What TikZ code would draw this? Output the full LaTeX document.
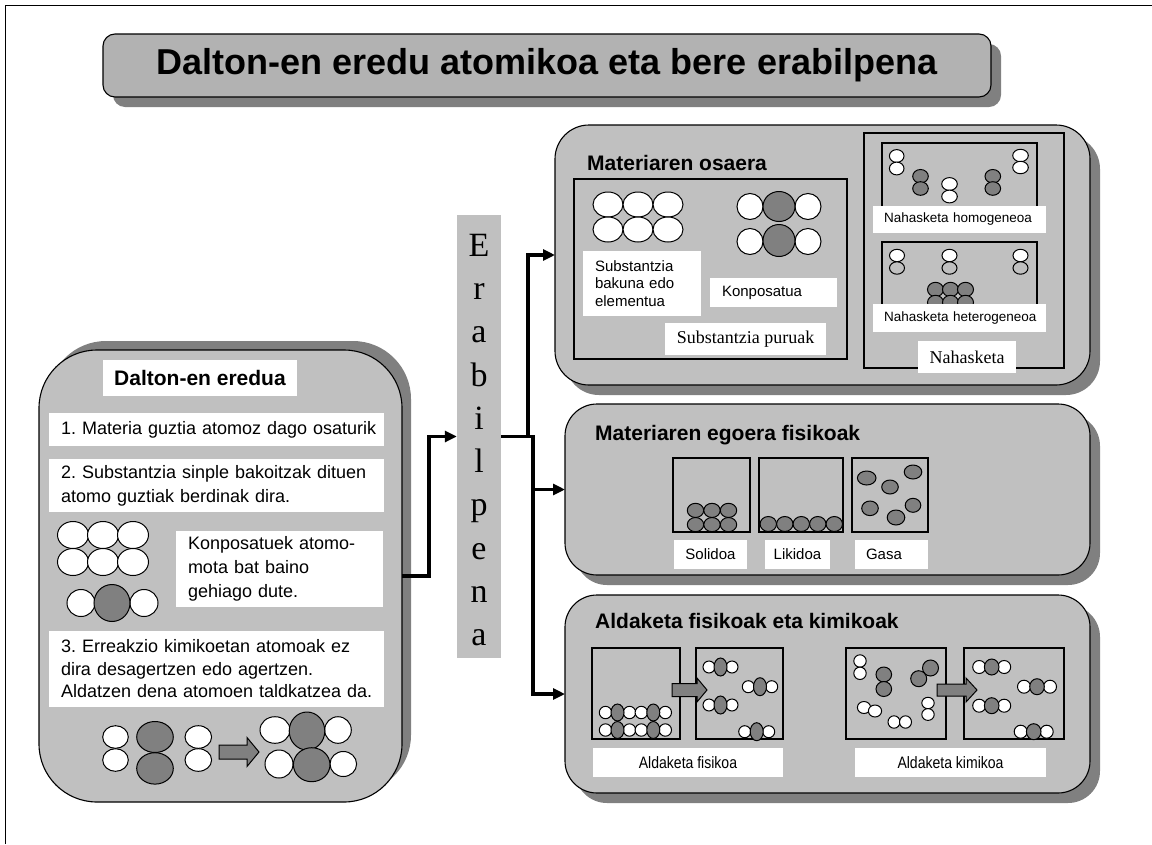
\documentclass[tikz,border=0pt]{standalone}
\usepackage{fontspec}
\setmainfont{Liberation Serif}
\setsansfont{Liberation Sans}
\newfontfamily\arial{Liberation Sans}
\newfontfamily\tnr{Liberation Serif}
\newfontfamily\narrowf[FakeStretch=0.85]{Liberation Sans}
\usetikzlibrary{shadows,arrows.meta}
\definecolor{boxg}{HTML}{C0C0C0}
\definecolor{shad}{HTML}{808080}
\definecolor{titleg}{HTML}{B2B2B2}
\definecolor{atomg}{HTML}{808080}
\frenchspacing
\newcommand\aW[4]{\path[atw] ({#1},{#2}) ellipse [x radius=#3pt, y radius=#4pt];}
\newcommand\aG[4]{\path[atg] ({#1},{#2}) ellipse [x radius=#3pt, y radius=#4pt];}
\newcommand\aL[4]{\path[atl] ({#1},{#2}) ellipse [x radius=#3pt, y radius=#4pt];}
\newcommand\mol[6]{\aW{#1-#3}{#2}{#4}{#4}\aW{#1+#3}{#2}{#4}{#4}\aG{#1}{#2}{#5}{#6}}
\newcommand\blkarrow[6]{\draw[barr] ({#1},{#4-#5}) -- ({#2},{#4-#5}) -- ({#2},{#4-#6}) -- ({#3},{#4}) -- ({#2},{#4+#6}) -- ({#2},{#4+#5}) -- ({#1},{#4+#5}) -- cycle;}
\begin{document}
\frenchspacing
\begin{tikzpicture}[x=1pt,y=-1pt,
  bigbox/.style={draw=black, line width=1.1pt, fill=boxg, rounded corners=#1, inner sep=0pt, outer sep=0pt},
  shdn/.style={drop shadow={shadow xshift=10pt, shadow yshift=-10pt, fill=shad, opacity=1}},
  wbox/.style={fill=white, inner sep=0pt, outer sep=0pt},
  tbox/.style={align=left, text width=#1, inner xsep=12pt, inner ysep=0pt},
  frm/.style={draw=black, line width=1.3pt},
  conn/.style={line width=3.5pt, -{Triangle[length=12pt,width=11pt]}},
  atw/.style={draw=black, line width=1pt, fill=white},
  atg/.style={draw=black, line width=1pt, fill=atomg},
  atl/.style={draw=black, line width=1pt, fill=boxg},
  barr/.style={draw=black, line width=1pt, fill=atomg},
  sect/.style={anchor=base west, inner sep=0pt, font=\arial\bfseries\fontsize{21}{25}\selectfont},
  bodyf/.style={font=\arial\fontsize{18}{24}\selectfont\frenchspacing},
  smallf/.style={font=\arial\fontsize{15}{17.5}\selectfont},
  mixf/.style={font=\arial\fontsize{13.5}{16}\selectfont},
  serf/.style={font=\tnr\fontsize{18}{20}\selectfont}
]
\useasboundingbox (0,0) rectangle (1152,844);
\fill[white] (0,0) rectangle (1152,844);
\draw[line width=1pt] (5,844) -- (5,5) -- (1152,5);

% title
\node[bigbox=12pt, fill=titleg, shdn, minimum width=888pt, minimum height=63pt,
  font=\arial\bfseries\fontsize{36}{40}\selectfont] (title) at (547,65.5) {Dalton-en eredu atomikoa eta bere erabilpena};

% left box
\node[bigbox=58pt, drop shadow={shadow xshift=9pt, shadow yshift=9pt, fill=shad, opacity=1},
  minimum width=363pt, minimum height=452pt] (dalton) at (220.5,576) {};
\node[wbox, minimum width=194pt, minimum height=36pt, font=\arial\bfseries\fontsize{21}{25}\selectfont] (dtitle) at (200,378) {Dalton-en eredua};
\node[wbox, tbox=311pt, bodyf, minimum height=33pt] (p1) at (216.5,429.5) {\mbox{1. Materia guztia atomoz dago osaturik}};
\node[wbox, tbox=311pt, bodyf, minimum height=53pt] (p2) at (216.5,485.5) {\mbox{2. Substantzia sinple bakoitzak dituen}\\\mbox{atomo guztiak berdinak dira.}};
\node[wbox, tbox=183pt, bodyf, minimum height=76pt] (p2b) at (279.5,569) {Konposatuek atomo-\\mota bat baino\\gehiago dute.};
\node[wbox, tbox=311pt, font=\arial\fontsize{18}{22.5}\selectfont\frenchspacing, minimum height=76pt] (p3) at (216.5,669) {\mbox{3. Erreakzio kimikoetan atomoak ez}\\\mbox{dira desagertzen edo agertzen.}\\\mbox{Aldatzen dena atomoen taldkatzea da.}};

\foreach \x in {73,103,133}{\foreach \y in {535,562}{\aW{\x}{\y}{15.5}{13.5}}}
\aW{81}{603}{14}{13.5}\aW{144}{603}{14}{13.5}\aG{112}{603}{18}{18.5}
\aW{115.5}{737}{12.8}{11.3}\aW{115.5}{760}{12.8}{11.3}
\aG{155}{737}{18.3}{15.5}\aG{155}{768.4}{18.3}{15.7}
\aW{198.3}{737}{13.3}{11.3}\aW{198.3}{760}{13.3}{11.3}
\blkarrow{219}{247}{259}{752}{7}{14.5}
\aW{275}{730}{15}{13.3}\aW{338}{730}{13.3}{13.3}\aG{307}{731}{17.8}{19}
\aW{279}{764}{14}{14}\aW{343.3}{764}{13.3}{12.5}\aG{311.7}{764.7}{18.3}{17}

% Erabilpena
\node[fill=boxg, inner sep=0pt, minimum width=44pt, minimum height=443pt] (erab) at (479,436.5) {};
\node[inner sep=0pt, align=center, font=\tnr\fontsize{34}{43.3}\selectfont] (erabtxt) at ([yshift=-3.5pt]erab.center) {E\\r\\a\\b\\i\\l\\p\\e\\n\\a};

% right boxes
\node[bigbox=34pt, shdn, minimum width=535pt, minimum height=260pt] (osaera) at (822.5,255) {};
\node[bigbox=32pt, shdn, minimum width=525pt, minimum height=171pt] (egoera) at (827.5,489.5) {};
\node[bigbox=32pt, shdn, minimum width=525pt, minimum height=198pt] (aldak) at (827.5,694) {};

% Materiaren osaera
\node[sect] (t1) at (587,170) {Materiaren osaera};
\draw[frm] (574,179) rectangle (847,359);
\foreach \x in {608,638,668}{\foreach \y in {204.5,229.5}{\aW{\x}{\y}{15}{12.5}}}
\aW{750}{206.5}{13}{13}\aW{808}{206.5}{13}{13}\aG{779}{206.5}{16}{15}
\aW{750}{241.5}{13}{13}\aW{808}{241.5}{13}{13}\aG{779}{240.5}{16}{16}
\node[wbox, tbox=94pt, smallf, minimum height=65pt] (lsb) at (642,283.5) {Substantzia\\bakuna edo\\elementua};
\node[wbox, tbox=103pt, smallf, minimum height=29pt] (lkon) at (773.5,292.5) {Konposatua};
\node[wbox, serf, minimum width=161pt, minimum height=32pt] (lpur) at (745.5,339) {Substantzia puruak};

\draw[frm] (864,133) rectangle (1064,368);
\draw[frm] (882,143) rectangle (1037,215);
\aW{896.7}{156}{7.3}{6.4}\aW{896.7}{168.5}{7.3}{6.4}
\aG{920.5}{176.3}{7.8}{6.8}\aG{920.5}{188.5}{7.8}{6.8}
\aW{949.5}{184}{7.8}{6.4}\aW{949.5}{196.5}{7.8}{6.4}
\aG{992.8}{176.3}{7.8}{6.8}\aG{992.8}{188.5}{7.8}{6.8}
\aW{1020.5}{155.5}{7.8}{6.2}\aW{1020.5}{167.5}{7.8}{6.2}
\node[wbox, tbox=151pt, mixf, inner xsep=11pt, minimum height=27pt] (lhom) at (959.5,219.5) {\mbox{Nahasketa homogeneoa}};
\draw[frm] (882,242) rectangle (1037,310);
\foreach \x in {897,949.5,1020.5}{\aW{\x}{255.5}{7.5}{6.2}\aL{\x}{268}{7.5}{6.2}}
\foreach \x in {935.5,950.5,965.5}{\aG{\x}{289.5}{8}{7.2}}
\foreach \x in {935.5,950.5,965.5}{\aG{\x}{302.5}{8}{7.2}}
\node[wbox, tbox=151pt, mixf, inner xsep=11pt, minimum height=28pt] (lhet) at (959.5,318) {\mbox{Nahasketa heterogeneoa}};
\node[wbox, serf, minimum width=98pt, minimum height=32pt] (lnah) at (967,357) {Nahasketa};

% Materiaren egoera fisikoak
\node[sect] (t2) at (595,440) {Materiaren egoera fisikoak};
\draw[frm] (673,458) rectangle (750,532);
\draw[frm] (759,458) rectangle (843,532);
\draw[frm] (852,458) rectangle (928,532);
\foreach \x in {695.5,712,728.5}{\aG{\x}{510.4}{8.2}{7.1}\aG{\x}{524.6}{8.2}{7.1}}
\foreach \x in {768.3,784.8,801.3,817.8,834.3}{\aG{\x}{524}{8.2}{7.5}}
\aG{866.7}{478}{9.3}{7}\aG{890}{487}{8.3}{7}\aG{913}{472}{8.8}{7}
\aG{870}{508.3}{8.3}{7.3}\aG{896}{517.5}{8.8}{7.5}\aG{913}{505.3}{7.8}{7}
\node[wbox, smallf, minimum width=73pt, minimum height=29pt] (lsol) at (710.5,554.5) {Solidoa};
\node[wbox, smallf, minimum width=65pt, minimum height=29pt] (llik) at (797.5,554.5) {Likidoa};
\node[wbox, tbox=51pt, smallf, inner xsep=11pt, minimum height=29pt] (lgas) at (891.5,554.5) {Gasa};

% Aldaketa fisikoak eta kimikoak
\node[sect] (t3) at (595,628) {Aldaketa fisikoak eta kimikoak};
\draw[frm] (592,648) rectangle (680,739);
\draw[frm] (696,648) rectangle (783,739);
\draw[frm] (846,648) rectangle (946,739);
\draw[frm] (964,648) rectangle (1064,739);
\foreach \y in {712.5,730}{\mol{617.5}{\y}{12}{6.2}{6.5}{8.5}\mol{653.3}{\y}{12}{6.2}{6.5}{8.5}}
\mol{720.5}{667}{11.5}{6}{6.5}{9}
\mol{760}{686.7}{11.7}{6}{6.5}{9}
\mol{720.5}{705}{11.5}{6}{6.5}{9}
\mol{756.7}{731.7}{12}{6}{6.5}{9}
\blkarrow{672}{697}{707}{690}{6.5}{12}
% chemical change, before
\aW{860}{661}{6.2}{6.2}\aW{860}{673.3}{6.2}{6.2}
\aG{883.8}{674.5}{7.8}{7.5}\aG{883.8}{689}{7.8}{7.5}
\aG{930.5}{668}{8}{8}\aG{918.7}{678.7}{8}{8}
\aW{864}{707.5}{6.6}{6}\aW{875}{711}{6.6}{6}
\aW{894}{722}{6}{6.2}\aW{905.5}{722}{6}{6.2}
\aW{928}{703}{6.2}{5.7}\aW{928}{714.5}{6.2}{5.9}
\mol{991.7}{667}{12.5}{6.5}{7.3}{8}
\mol{1037}{686.7}{13}{6.5}{7.3}{8}
\mol{991.7}{705.7}{12.5}{6.5}{7.3}{8}
\mol{1033.7}{731.7}{13}{6.5}{7.3}{8}
\blkarrow{937}{966}{977}{690}{6}{12}
\node[wbox, font=\narrowf\fontsize{16.5}{19}\selectfont, minimum width=190pt, minimum height=29pt] (lfis) at (688,762.5) {Aldaketa fisikoa};
\node[wbox, font=\narrowf\fontsize{16.5}{19}\selectfont, minimum width=191pt, minimum height=29pt] (lkim) at (950.5,762.5) {Aldaketa kimikoa};

% connectors
\draw[conn] (dalton.east) -- ++(27,0) |- (erab.west);
\draw[conn] (erab.east) -- ++(27,0) |- (osaera.west);
\draw[conn] (erab.east) -- ++(32,0) |- (egoera.west);
\draw[conn] (erab.east) -- ++(32,0) |- (aldak.west);
\end{tikzpicture}
\end{document}
